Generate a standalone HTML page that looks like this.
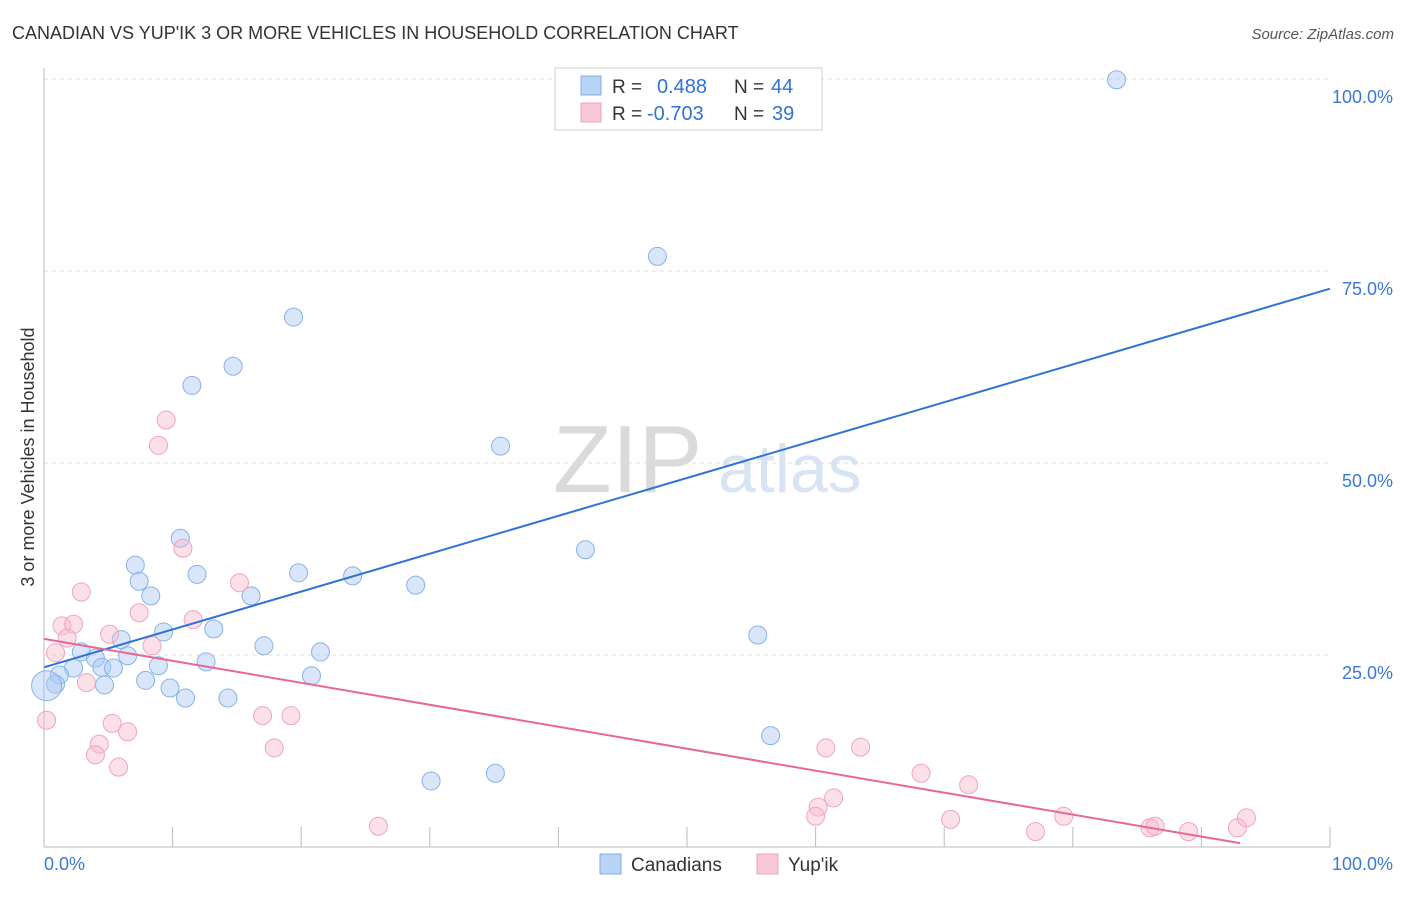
<!DOCTYPE html>
<html><head><meta charset="utf-8"><style>
body{margin:0;background:#fff;font-family:"Liberation Sans",sans-serif}
svg text{font-family:"Liberation Sans",sans-serif}
</style></head><body>
<svg width="1406" height="892" viewBox="0 0 1406 892" xmlns="http://www.w3.org/2000/svg" id="chart">
<text x="12" y="39" font-size="18" fill="#333">CANADIAN VS YUP'IK 3 OR MORE VEHICLES IN HOUSEHOLD CORRELATION CHART</text>
<text x="1394" y="39" font-size="15" fill="#555" font-style="italic" text-anchor="end">Source: ZipAtlas.com</text>
<g>
<text x="553" y="492" font-size="96" fill="#dadada" font-family="Liberation Serif">ZIP</text>
<text x="718" y="492" font-size="68" fill="#d8e4f4">atlas</text>
</g>
<text transform="translate(34,457) rotate(-90)" font-size="18" fill="#333" text-anchor="middle">3 or more Vehicles in Household</text>
<g id="grid"></g>
<g id="axes"></g>
<g id="pts"></g>
<g id="lines"></g>
<g>
<rect x="555" y="68" width="267" height="62" fill="#fff" stroke="#ccc"/>
<rect x="581" y="76" width="20" height="19" fill="#b9d3f5" stroke="#7eaee6"/>
<rect x="581" y="103" width="20" height="19" fill="#f8c8d6" stroke="#f0a0b8"/>
<text x="612" y="93" font-size="19" fill="#333">R =</text>
<text x="657" y="93" font-size="20" fill="#2f72d8">0.488</text>
<text x="734" y="93" font-size="19" fill="#333">N =</text>
<text x="771" y="93" font-size="20" fill="#2f72d8">44</text>
<text x="612" y="120" font-size="19" fill="#333">R =</text>
<text x="647" y="120" font-size="20" fill="#2f72d8">-0.703</text>
<text x="734" y="120" font-size="19" fill="#333">N =</text>
<text x="772" y="120" font-size="20" fill="#2f72d8">39</text>
</g>
<g>
<rect x="600" y="854" width="21" height="20" fill="#b9d3f5" stroke="#7eaee6"/>
<text x="631" y="871" font-size="19" fill="#333">Canadians</text>
<rect x="757" y="854" width="21" height="20" fill="#f8c8d6" stroke="#f0a0b8"/>
<text x="788" y="871" font-size="19" fill="#333">Yup'ik</text>
</g>
</svg>
<script>
const yTicks=[25,50,75,100];
const yTickLabels=["25.0%","50.0%","75.0%","100.0%"];
const xTicks=[0,10,20,30,40,50,60,70,80,90,100];
const blueX=[83.4,47.7,19.4,14.7,11.5,35.5,10.6,42.1,7.1,7.4,11.9,19.8,24.0,28.9,8.3,16.1,9.3,13.2,6.0,17.1,55.5,21.5,2.9,4.0,6.5,12.6,8.9,2.3,4.5,5.4,1.2,0.9,4.7,7.9,9.8,11.0,14.3,20.8,56.5,35.1,30.1,0.2];
const blueY=[99.9,76.9,69.0,62.6,60.1,52.2,40.2,38.7,36.7,34.6,35.5,35.7,35.3,34.1,32.7,32.7,28.0,28.4,27.0,26.2,27.6,25.4,25.4,24.6,24.9,24.1,23.6,23.3,23.4,23.3,22.4,21.2,21.1,21.7,20.7,19.4,19.4,22.3,14.5,9.6,8.6,21.0];
const pinkX=[9.5,8.9,10.8,2.9,15.2,7.4,1.4,2.3,11.6,5.1,1.8,8.4,0.9,3.3,0.2,5.3,6.5,4.3,4.0,5.8,17.0,19.2,17.9,26.0,60.8,63.5,68.2,71.9,60.2,61.4,60.0,70.5,77.1,79.3,86.0,86.4,89.0,92.8,93.5];
const pinkY=[55.6,52.3,38.9,33.2,34.4,30.5,28.8,29.0,29.6,27.7,27.2,26.2,25.3,21.4,16.5,16.1,15.0,13.4,12.0,10.4,17.1,17.1,12.9,2.7,12.9,13.0,9.6,8.1,5.2,6.4,4.0,3.6,2.0,4.0,2.5,2.7,2.0,2.5,3.8];
const blueLine=[[0,23.4],[100,72.7]];
const pinkLine=[[0,27.1],[93,0.5]];
const NS="http://www.w3.org/2000/svg";
const sx=v=>44+v*12.86, sy=v=>847-v*7.68;
function mk(tag,attrs,parent){const e=document.createElementNS(NS,tag);for(const k in attrs)e.setAttribute(k,attrs[k]);document.getElementById(parent).appendChild(e);return e;}
yTicks.forEach((t,i)=>{
 const g=mk('line',{x1:44,x2:1330,y1:sy(t),y2:sy(t),stroke:'#ddd','stroke-dasharray':'4,4'},'grid');
 
 
 const tx=mk('text',{x:1393,y:sy(t)+24,'font-size':18,fill:'#3a78d8','text-anchor':'end'},'grid');
 tx.textContent=yTickLabels[i];
 
 
});
const ax=mk('line',{x1:44,x2:1330,y1:847,y2:847,stroke:'#bbb'},'axes');


const ay=mk('line',{x1:44,x2:44,y1:68,y2:847,stroke:'#bbb'},'axes');


xTicks.forEach(t=>{const l=mk('line',{x1:sx(t),x2:sx(t),y1:827,y2:847,stroke:'#bbb'},'axes');
 
 });
[[0,"0.0%",'start',44],[100,"100.0%",'end',1393]].forEach(a=>{const t=mk('text',{x:a[3],y:870,'font-size':18,fill:'#3a78d8','text-anchor':a[2]},'axes');t.textContent=a[1];
 
 });
blueX.forEach((x,i)=>{const c=mk('circle',{cx:sx(x),cy:sy(blueY[i]),r:i==blueX.length-1?15:9,fill:'rgba(170,200,242,0.45)',stroke:'#86b2e8','stroke-width':1},'pts');
 
 });
pinkX.forEach((x,i)=>{const c=mk('circle',{cx:sx(x),cy:sy(pinkY[i]),r:9,fill:'rgba(246,186,205,0.45)',stroke:'#f0a4bc','stroke-width':1},'pts');
 
 });
const bl=mk('line',{x1:sx(blueLine[0][0]),y1:sy(blueLine[0][1]),x2:sx(blueLine[1][0]),y2:sy(blueLine[1][1]),stroke:'#2f72d8','stroke-width':2},'lines');


const pl=mk('line',{x1:sx(pinkLine[0][0]),y1:sy(pinkLine[0][1]),x2:sx(pinkLine[1][0]),y2:sy(pinkLine[1][1]),stroke:'#e8679a','stroke-width':2},'lines');


</script>
</body></html>
